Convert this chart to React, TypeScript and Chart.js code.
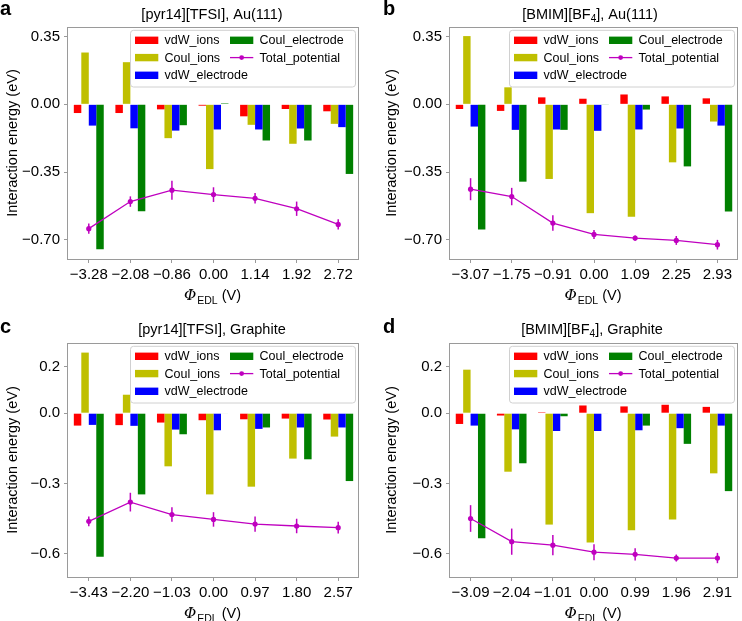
import React, { useEffect, useRef } from 'react';
import { Chart, registerables } from 'chart.js';

Chart.register(...registerables);

const FONT = "'Liberation Sans', Arial, Helvetica, sans-serif";

// ---------- data ----------
const seriesLabels = ['vdW_ions', 'Coul_ions', 'vdW_electrode', 'Coul_electrode', 'Total_potential'];
const seriesColors = ['#ff0000', '#bfbf00', '#0000ff', '#008000', '#bf00bf'];

// panel a: [pyr14][TFSI], Au(111)
const catA = ['−3.28', '−2.08', '−0.86', '0.00', '1.14', '1.92', '2.72'];
const vdwIonsA = [-0.045, -0.045, -0.026, -0.007, -0.062, -0.024, -0.036];
const coulIonsA = [0.268, 0.218, -0.175, -0.335, -0.106, -0.204, -0.101];
const vdwElecA = [-0.11, -0.124, -0.136, -0.13, -0.13, -0.125, -0.118];
const coulElecA = [-0.75, -0.553, -0.108, 0.005, -0.187, -0.187, -0.36];
const totalA = [-0.643, -0.503, -0.444, -0.467, -0.486, -0.54, -0.621];
const totalErrA = [0.026, 0.027, 0.049, 0.038, 0.027, 0.037, 0.026];

// panel b: [BMIM][BF4], Au(111)
const catB = ['−3.07', '−1.75', '−0.91', '0.00', '1.09', '2.25', '2.93'];
const vdwIonsB = [-0.024, -0.034, 0.036, 0.029, 0.051, 0.041, 0.031];
const coulIonsB = [0.353, 0.088, -0.386, -0.563, -0.582, -0.3, -0.089];
const vdwElecB = [-0.115, -0.132, -0.13, -0.137, -0.13, -0.125, -0.11];
const coulElecB = [-0.647, -0.4, -0.132, -0.002, -0.027, -0.321, -0.554];
const totalB = [-0.439, -0.477, -0.614, -0.673, -0.692, -0.704, -0.726];
const totalErrB = [0.057, 0.045, 0.04, 0.023, 0.014, 0.023, 0.025];

// panel c: [pyr14][TFSI], Graphite
const catC = ['−3.43', '−2.20', '−1.03', '0.00', '0.97', '1.80', '2.57'];
const vdwIonsC = [-0.053, -0.051, -0.04, -0.03, -0.026, -0.023, -0.027];
const coulIonsC = [0.259, 0.079, -0.227, -0.347, -0.314, -0.194, -0.1];
const vdwElecC = [-0.05, -0.054, -0.07, -0.073, -0.067, -0.061, -0.061];
const coulElecC = [-0.613, -0.347, -0.09, -0.002, -0.061, -0.197, -0.29];
const totalC = [-0.462, -0.38, -0.433, -0.454, -0.474, -0.482, -0.489];
const totalErrC = [0.021, 0.04, 0.031, 0.031, 0.033, 0.031, 0.025];

// panel d: [BMIM][BF4], Graphite
const catD = ['−3.09', '−2.04', '−1.01', '0.00', '0.99', '1.96', '2.91'];
const vdwIonsD = [-0.046, -0.01, 0.004, 0.033, 0.029, 0.036, 0.027];
const coulIonsD = [0.186, -0.25, -0.476, -0.553, -0.5, -0.454, -0.257];
const vdwElecD = [-0.053, -0.069, -0.076, -0.076, -0.073, -0.064, -0.053];
const coulElecD = [-0.534, -0.214, -0.013, -0.002, -0.053, -0.131, -0.333];
const totalD = [-0.45, -0.549, -0.564, -0.594, -0.603, -0.619, -0.619];
const totalErrD = [0.057, 0.056, 0.043, 0.034, 0.026, 0.015, 0.022];

// y ticks
const yTicksAu = [0.35, 0, -0.35, -0.7];
const yLabelsAu = ['0.35', '0.00', '−0.35', '−0.70'];
const yRangeAu = [-0.8, 0.4];
const yTicksGr = [0.2, 0, -0.3, -0.6];
const yLabelsGr = ['0.2', '0.0', '−0.3', '−0.6'];
const yRangeGr = [-0.7, 0.3];

type Seg = { t: string; sub?: boolean };
const titleA: Seg[] = [{ t: '[pyr14][TFSI], Au(111)' }];
const titleB: Seg[] = [{ t: '[BMIM][BF' }, { t: '4', sub: true }, { t: '], Au(111)' }];
const titleC: Seg[] = [{ t: '[pyr14][TFSI], Graphite' }];
const titleD: Seg[] = [{ t: '[BMIM][BF' }, { t: '4', sub: true }, { t: '], Graphite' }];

interface PanelCfg {
  letter: string;
  title: Seg[];
  cats: string[];
  bars: number[][];
  total: number[];
  err: number[];
  yTicks: number[];
  yLabels: string[];
  yRange: number[];
  left: number;
  top: number;
  w: number;
  h: number;
  area: { l: number; r: number; t: number; b: number };
  titleX: number;
  titleY: number;
  letterX: number;
  letterY: number;
  yTitleX: number;
}

const panels: PanelCfg[] = [
  {
    letter: 'a', title: titleA, cats: catA, bars: [vdwIonsA, coulIonsA, vdwElecA, coulElecA],
    total: totalA, err: totalErrA, yTicks: yTicksAu, yLabels: yLabelsAu, yRange: yRangeAu,
    left: 0, top: 0, w: 371, h: 310, area: { l: 68, r: 359, t: 27, b: 259 },
    titleX: 212, titleY: 15, letterX: 0, letterY: 15, yTitleX: 13,
  },
  {
    letter: 'b', title: titleB, cats: catB, bars: [vdwIonsB, coulIonsB, vdwElecB, coulElecB],
    total: totalB, err: totalErrB, yTicks: yTicksAu, yLabels: yLabelsAu, yRange: yRangeAu,
    left: 371, top: 0, w: 371, h: 310, area: { l: 79, r: 370, t: 27, b: 259 },
    titleX: 219, titleY: 15, letterX: 12, letterY: 15, yTitleX: 21,
  },
  {
    letter: 'c', title: titleC, cats: catC, bars: [vdwIonsC, coulIonsC, vdwElecC, coulElecC],
    total: totalC, err: totalErrC, yTicks: yTicksGr, yLabels: yLabelsGr, yRange: yRangeGr,
    left: 0, top: 310, w: 371, h: 311, area: { l: 68, r: 359, t: 33, b: 267 },
    titleX: 212, titleY: 20, letterX: 0, letterY: 23, yTitleX: 13,
  },
  {
    letter: 'd', title: titleD, cats: catD, bars: [vdwIonsD, coulIonsD, vdwElecD, coulElecD],
    total: totalD, err: totalErrD, yTicks: yTicksGr, yLabels: yLabelsGr, yRange: yRangeGr,
    left: 371, top: 310, w: 371, h: 311, area: { l: 79, r: 370, t: 33, b: 267 },
    titleX: 221, titleY: 20, letterX: 12, letterY: 23, yTitleX: 21,
  },
];

function drawSegs(ctx: CanvasRenderingContext2D, segs: Seg[], cx: number, cy: number, size: number) {
  const main = `${size}px ${FONT}`;
  const sub = `${Math.round(size * 0.7)}px ${FONT}`;
  let total = 0;
  for (const s of segs) {
    ctx.font = s.sub ? sub : main;
    total += ctx.measureText(s.t).width;
  }
  let x = cx - total / 2;
  ctx.textAlign = 'left';
  ctx.textBaseline = 'middle';
  for (const s of segs) {
    ctx.font = s.sub ? sub : main;
    ctx.fillText(s.t, x, s.sub ? cy + 4 : cy);
    x += ctx.measureText(s.t).width;
  }
}

function makePlugin(p: PanelCfg) {
  return {
    id: 'decor' + p.letter,
    afterDraw(chart: any) {
      const ctx: CanvasRenderingContext2D = chart.ctx;
      const a = chart.chartArea;
      const ys = chart.scales.y;
      const lineIdx = chart.data.datasets.length - 1;
      const meta = chart.getDatasetMeta(lineIdx);
      const ds: any = chart.data.datasets[lineIdx];
      ctx.save();
      // error bars
      ctx.strokeStyle = ds.borderColor;
      ctx.lineWidth = 1.5;
      meta.data.forEach((pt: any, i: number) => {
        const v = ds.data[i];
        const e = ds.errors[i];
        ctx.beginPath();
        ctx.moveTo(pt.x, ys.getPixelForValue(v - e));
        ctx.lineTo(pt.x, ys.getPixelForValue(v + e));
        ctx.stroke();
      });
      // frame
      ctx.strokeStyle = '#9a9a9a';
      ctx.lineWidth = 1;
      ctx.strokeRect(Math.round(a.left) - 0.5, Math.round(a.top) + 0.5, Math.round(a.right - a.left) + 0.0, Math.round(a.bottom - a.top) - 0.0);

      // legend
      const lw = 225, lh = 56.7;
      const lx = a.right - 3.5 - lw;
      const ly = a.top + 3.3;
      ctx.beginPath();
      const r = 3;
      ctx.moveTo(lx + r, ly);
      ctx.lineTo(lx + lw - r, ly);
      ctx.quadraticCurveTo(lx + lw, ly, lx + lw, ly + r);
      ctx.lineTo(lx + lw, ly + lh - r);
      ctx.quadraticCurveTo(lx + lw, ly + lh, lx + lw - r, ly + lh);
      ctx.lineTo(lx + r, ly + lh);
      ctx.quadraticCurveTo(lx, ly + lh, lx, ly + lh - r);
      ctx.lineTo(lx, ly + r);
      ctx.quadraticCurveTo(lx, ly, lx + r, ly);
      ctx.closePath();
      ctx.fillStyle = 'rgba(255,255,255,0.85)';
      ctx.fill();
      ctx.strokeStyle = '#d0d0d0';
      ctx.stroke();
      const slots = [
        [0, 0], [0, 1], [0, 2], [1, 0], [1, 1],
      ];
      const colX = [4.5, 99.5];
      const rowY = [10, 27.3, 45];
      ctx.font = `12.5px ${FONT}`;
      ctx.textBaseline = 'middle';
      ctx.textAlign = 'left';
      chart.data.datasets.forEach((d: any, i: number) => {
        const [c, rr] = slots[i];
        const hx = lx + colX[c];
        const hy = ly + rowY[rr];
        if (d.type === 'line') {
          ctx.strokeStyle = d.borderColor;
          ctx.lineWidth = 1.3;
          ctx.beginPath();
          ctx.moveTo(hx, hy);
          ctx.lineTo(hx + 23.3, hy);
          ctx.stroke();
          ctx.fillStyle = d.borderColor;
          ctx.beginPath();
          ctx.arc(hx + 11.65, hy, 2.4, 0, Math.PI * 2);
          ctx.fill();
        } else {
          ctx.fillStyle = d.backgroundColor;
          ctx.fillRect(hx, hy - 3.7, 23.3, 7.4);
        }
        ctx.fillStyle = '#000';
        ctx.fillText(d.label, hx + 29.5, hy + 0.5);
      });

      // panel letter
      ctx.fillStyle = '#000';
      ctx.font = `bold 20px ${FONT}`;
      ctx.textBaseline = 'alphabetic';
      ctx.fillText(p.letter, p.letterX, p.letterY);

      // title
      drawSegs(ctx, p.title, p.titleX, p.titleY, 14.5);

      // y title
      ctx.save();
      ctx.translate(p.yTitleX, (a.top + a.bottom) / 2);
      ctx.rotate(-Math.PI / 2);
      ctx.font = `14.5px ${FONT}`;
      ctx.textAlign = 'center';
      ctx.textBaseline = 'middle';
      ctx.fillText('Interaction energy (eV)', 0, 0);
      ctx.restore();

      // x title: Φ_EDL (V)
      const phiFont = `italic 15px 'DejaVu Serif', serif`;
      const subFont = `10.5px ${FONT}`;
      const restFont = `14.5px ${FONT}`;
      ctx.font = phiFont; const w1 = ctx.measureText('Φ').width;
      ctx.font = subFont; const w2 = ctx.measureText('EDL').width;
      ctx.font = restFont; const w3 = ctx.measureText(' (V)').width;
      let x = (a.left + a.right) / 2 - 1 - (w1 + w2 + w3 + 1) / 2;
      const yb = a.bottom + 41;
      ctx.textAlign = 'left';
      ctx.textBaseline = 'alphabetic';
      ctx.font = phiFont; ctx.fillText('Φ', x, yb); x += w1 + 1;
      ctx.font = subFont; ctx.fillText('EDL', x, yb + 3.5); x += w2;
      ctx.font = restFont; ctx.fillText(' (V)', x, yb);
      ctx.restore();
    },
  };
}

function Panel({ p }: { p: PanelCfg }) {
  const ref = useRef<HTMLCanvasElement | null>(null);
  useEffect(() => {
    if (!ref.current) return;
    const datasets: any[] = p.bars.map((vals, i) => ({
      type: 'bar',
      label: seriesLabels[i],
      data: vals,
      backgroundColor: seriesColors[i],
      borderWidth: 0,
      categoryPercentage: 0.72,
      barPercentage: 1.0,
      order: 2,
    }));
    datasets.push({
      type: 'line',
      label: seriesLabels[4],
      data: p.total,
      errors: p.err,
      borderColor: seriesColors[4],
      backgroundColor: seriesColors[4],
      borderWidth: 1.3,
      pointRadius: 2.6,
      pointBorderWidth: 0,
      pointBackgroundColor: seriesColors[4],
      tension: 0,
      order: 1,
    });
    const chart = new Chart(ref.current, {
      type: 'bar',
      data: { labels: p.cats, datasets },
      options: {
        animation: false,
        responsive: false,
        devicePixelRatio: 1,
        layout: { padding: { left: 0, top: p.area.t, right: p.w - p.area.r, bottom: 0 } },
        plugins: { legend: { display: false }, tooltip: { enabled: false }, title: { display: false } },
        scales: {
          x: {
            offset: true,
            grid: { display: true, drawOnChartArea: false, drawTicks: true, tickLength: 4, color: '#9a9a9a', offset: false },
            border: { display: false },
            ticks: { color: '#000', font: { family: FONT, size: 15 }, padding: 3, maxRotation: 0, autoSkip: false },
            afterFit: (s: any) => { s.height = p.h - p.area.b; },
          },
          y: {
            min: p.yRange[0],
            max: p.yRange[1],
            grid: { display: true, drawOnChartArea: false, drawTicks: true, tickLength: 4, color: '#9a9a9a' },
            border: { display: false },
            afterBuildTicks: (s: any) => { s.ticks = p.yTicks.map((v) => ({ value: v })); },
            ticks: {
              color: '#000', font: { family: FONT, size: 15 }, padding: 4,
              callback: (_v: any, i: number) => p.yLabels[i],
            },
            afterFit: (s: any) => { s.width = p.area.l; },
          },
        },
      } as any,
      plugins: [makePlugin(p)],
    });
    return () => chart.destroy();
  }, [p]);
  return (
    <canvas
      ref={ref}
      width={p.w}
      height={p.h}
      style={{ position: 'absolute', left: p.left, top: p.top, width: p.w, height: p.h }}
    />
  );
}

export default function App() {
  return (
    <div style={{ position: 'absolute', left: 0, top: 0, width: 742, height: 621, background: '#fff', overflow: 'hidden' }}>
      {panels.map((p) => (
        <Panel key={p.letter} p={p} />
      ))}
    </div>
  );
}
